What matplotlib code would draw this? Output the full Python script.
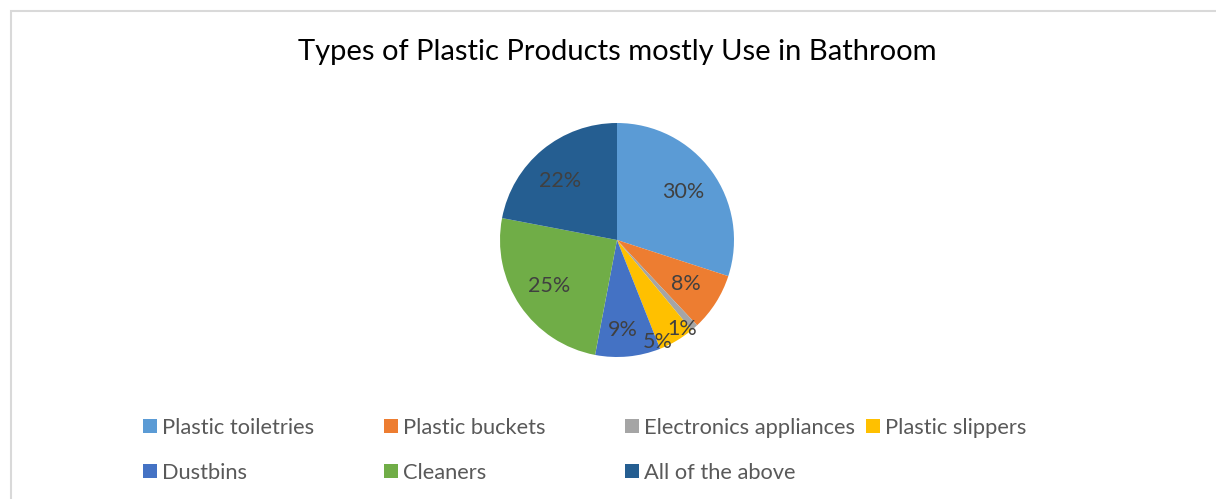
import matplotlib
matplotlib.use("Agg")
import numpy as np
import matplotlib.pyplot as plt
from matplotlib.patches import Rectangle

# data
labels = ["Plastic toiletries", "Plastic buckets", "Electronics appliances",
          "Plastic slippers", "Dustbins", "Cleaners", "All of the above"]
shares = [30, 8, 1, 5, 9, 25, 22]
colors = ["#5B9BD5", "#ED7D31", "#A5A5A5", "#FFC000", "#4472C4", "#70AD47", "#255E91"]

W, H = 1216, 499
fig = plt.figure(figsize=(W / 100, H / 100), dpi=100)
plt.rcParams['font.family'] = ['Lato', 'DejaVu Sans']

# chart border (light grey, left and top visible)
fig.patches.append(Rectangle((11 / W, -0.2), 1.2, 1.2 - 10.5 / H,
                             transform=fig.transFigure, fill=False,
                             edgecolor="#D9D9D9", linewidth=1.5))

fig.text(617 / W, 1 - 52 / H, "Types of Plastic Products mostly Use in Bathroom",
         ha="center", va="center", fontsize=21, color="#000000")

# pie
ax = fig.add_axes([500 / W, 142 / H, 234 / W, 234 / H])
wedges, texts, autotexts = ax.pie(
    shares, colors=colors, startangle=90, counterclock=False,
    autopct="%d%%", pctdistance=0.7, radius=1.0,
    textprops=dict(fontsize=15.5, color="#404040"))
ax.set_xlim(-1, 1)
ax.set_ylim(-1, 1)
ax.set_aspect("equal")

# Excel "best fit" nudges: (index, radius factor, clockwise shift in degrees)
for i, f, dang in [(2, 0.94 / 0.7, 5), (3, 0.94 / 0.7, 9), (4, 0.77 / 0.7, 2),
                   (6, 1.0, -4)]:
    x, y = autotexts[i].get_position()
    r = np.hypot(x, y) * f
    a = np.arctan2(y, x) - np.radians(dang)
    autotexts[i].set_position((r * np.cos(a), r * np.sin(a)))

# legend, placed entry by entry like Excel's flowing layout
legend_pos = [(143, 428), (384, 428), (625, 428), (866, 428),
              (143, 473), (384, 473), (625, 473)]
for w, lab, (px, py) in zip(wedges, labels, legend_pos):
    lg = fig.legend([w], [lab], loc="center left",
                    bbox_to_anchor=(px / W, 1 - py / H),
                    frameon=False, fontsize=15.75, handlelength=0.62,
                    handleheight=0.62, handletextpad=0.27,
                    borderaxespad=0, borderpad=0)
    for t in lg.get_texts():
        t.set_color("#595959")

fig.savefig("out.png", dpi=100)
